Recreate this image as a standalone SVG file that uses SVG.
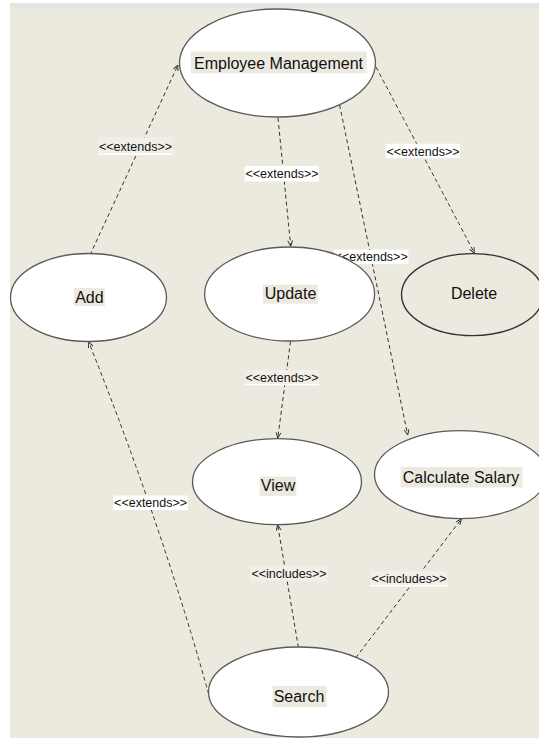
<svg xmlns="http://www.w3.org/2000/svg" width="539" height="738" viewBox="0 0 539 738">
<defs>
<marker id="arr" viewBox="0 0 10 10" refX="10" refY="5" markerWidth="6" markerHeight="6" orient="auto" markerUnits="userSpaceOnUse">
<path d="M1,1 L10,5 L1,9" fill="none" stroke="#222" stroke-width="1.5"/>
</marker>
<style>
.uc{fill:#ffffff;stroke:#5a5a5a;stroke-width:1.3}
.ucb{fill:none;stroke:#333;stroke-width:1.4}
.t{font-family:"Liberation Sans",Arial,sans-serif;font-size:16px;fill:#111;text-anchor:middle}
.hl{fill:#ECE9DF}
.lk{fill:none;stroke:#333;stroke-width:1;stroke-dasharray:4 3;marker-end:url(#arr)}
.lb{font-family:"Liberation Sans",Arial,sans-serif;font-size:12.5px;fill:#111;text-anchor:middle}
.lbw{fill:#ffffff}
.lbl{fill:#F1EFE8}
</style>
</defs>
<rect x="0" y="0" width="539" height="738" fill="#ffffff"/>
<rect x="10" y="3" width="529" height="735" fill="#ECE9DF"/>
<rect x="10" y="3" width="529" height="5" fill="#E3E3E3"/>

<g id="connectors">
<path class="lk" d="M90,255 L178,65"/>
<path class="lk" d="M278,118 L290.7,246"/>
<path class="lk" d="M339.6,105 L407.7,435"/>
<path class="lk" d="M376,67 Q 452,210 474.3,253"/>
<path class="lk" d="M290.5,341.5 L277.8,438"/>
<path class="lk" d="M208.7,694 Q 160,520 88.7,342"/>
<path class="lk" d="M298.4,647.4 L277.7,525"/>
<path class="lk" d="M355.8,657.7 L461.3,519"/>
</g>

<g id="labels">
<rect class="lbl" x="98.3" y="137.3" width="74.4" height="17"/>
<rect x="98.3" y="153.3" width="74.4" height="1.5" fill="#ffffff"/>
<text class="lb" x="135.5" y="150.5">&lt;&lt;extends&gt;&gt;</text>
<rect class="lbw" x="244.8" y="166" width="74.2" height="15.5"/>
<text class="lb" x="282" y="178">&lt;&lt;extends&gt;&gt;</text>
<rect class="lbw" x="385.7" y="143.7" width="74.3" height="14.5"/>
<text class="lb" x="423" y="155.5">&lt;&lt;extends&gt;&gt;</text>
<rect class="lbw" x="334" y="249.6" width="74.4" height="14.5"/>
<text class="lb" x="371.2" y="261">&lt;&lt;extends&gt;&gt;</text>
<rect class="lbl" x="244.8" y="370" width="74.2" height="15"/>
<rect x="244.8" y="384" width="74.2" height="1.5" fill="#ffffff"/>
<text class="lb" x="282" y="381.5">&lt;&lt;extends&gt;&gt;</text>
<rect class="lbw" x="113.4" y="495.5" width="74.6" height="14.5"/>
<text class="lb" x="150.6" y="507">&lt;&lt;extends&gt;&gt;</text>
<rect class="lbl" x="250.3" y="566" width="78" height="15.4"/>
<text class="lb" x="289" y="577.5">&lt;&lt;includes&gt;&gt;</text>
<rect class="lbl" x="370.6" y="571" width="77" height="14.5"/>
<rect x="370.6" y="585" width="77" height="1.5" fill="#ffffff"/>
<text class="lb" x="409" y="582.5">&lt;&lt;includes&gt;&gt;</text>
</g>

<g id="employee-management">
<ellipse class="uc" cx="277.5" cy="63" rx="98" ry="54"/>
<rect class="hl" x="190.8" y="51.6" width="176" height="21.6"/>
<text class="t" x="278.5" y="68.5">Employee Management</text>
</g>

<g id="add">
<ellipse class="uc" cx="88.5" cy="297.5" rx="78" ry="44"/>
<rect class="hl" x="73.9" y="288" width="31" height="18"/>
<text class="t" x="89.4" y="302.5">Add</text>
</g>

<g id="update">
<ellipse class="uc" cx="289.6" cy="294" rx="85" ry="47"/>
<rect class="hl" x="263" y="284.7" width="55" height="19"/>
<text class="t" x="290.5" y="299">Update</text>
</g>

<g id="delete">
<ellipse class="ucb" cx="472.5" cy="294.6" rx="71" ry="41"/>
<text class="t" x="474" y="299">Delete</text>
</g>

<g id="view">
<ellipse class="uc" cx="277" cy="481.7" rx="84.5" ry="43"/>
<rect class="hl" x="259.5" y="476.5" width="36.8" height="19.5"/>
<text class="t" x="278" y="491">View</text>
</g>

<g id="calculate-salary">
<ellipse class="uc" cx="460.5" cy="474.6" rx="86" ry="44"/>
<rect class="hl" x="400.5" y="467" width="122" height="20.5"/>
<text class="t" x="461" y="482.5">Calculate Salary</text>
</g>

<g id="search">
<ellipse class="uc" cx="298.5" cy="692" rx="90" ry="45"/>
<rect class="hl" x="272.6" y="686" width="54" height="21"/>
<text class="t" x="299" y="702">Search</text>
</g>
</svg>
